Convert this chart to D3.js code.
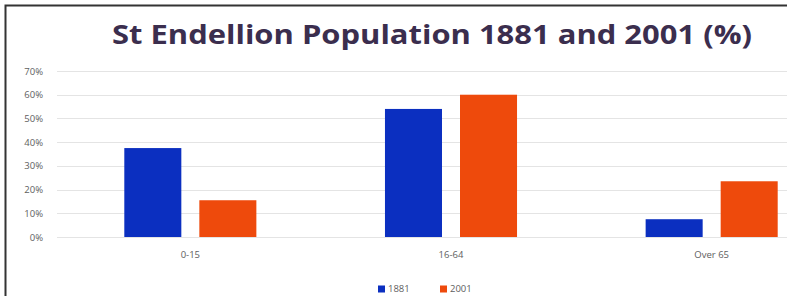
<!DOCTYPE html>
<html>
<head>
<meta charset="utf-8">
<script src="https://cdn.jsdelivr.net/npm/d3@7"></script>
<style>
  body { margin: 0; background: #fff; }
  svg { display: block; }
</style>
</head>
<body>
<svg id="chart" width="787" height="296"></svg>
<script>
// data
const categories = ['0-15', '16-64', 'Over 65'];
const seriesNames = ['1881', '2001'];
const values1881 = [37.5, 54, 7.5];
const values2001 = [15.5, 60, 23.5];
const yTicks = [0, 10, 20, 30, 40, 50, 60, 70];

const colors = { '1881': '#0b2fc0', '2001': '#ee4a0c' };

const svg = d3.select('#chart');
const W = 787, H = 296;

// frame (only top and left edges visible, rest is cut off)
svg.append('path')
  .attr('d', `M5.5,${H} V5.5 H${W}`)
  .attr('fill', 'none')
  .attr('stroke', '#333')
  .attr('stroke-width', 2);

// title
const title = svg.append('text')
  .attr('x', 432)
  .attr('y', 44)
  .attr('text-anchor', 'middle')
  .attr('font-family', 'Open Sans, sans-serif')
  .attr('font-weight', 'bold')
  .attr('font-size', 27)
  .attr('fill', '#3b2e4e')
  .text('St Endellion Population 1881 and 2001 (%)');
// squeeze to the width seen in the picture
title.attr('textLength', 640).attr('lengthAdjust', 'spacingAndGlyphs');

// scales
const plot = { left: 60, right: 842, top: 71, bottom: 237 };
const x = d3.scaleBand().domain(categories).range([plot.left, plot.right]);
const x1 = d3.scaleBand().domain(seriesNames).range([0, x.bandwidth()]).paddingInner(0.24).paddingOuter(0.857);
const y = d3.scaleLinear().domain([0, 70]).range([plot.bottom, plot.top]);

// gridlines
svg.append('g')
  .selectAll('line')
  .data(yTicks)
  .join('line')
  .attr('x1', 57)
  .attr('x2', W)
  .attr('y1', d => Math.round(y(d)) + 0.5)
  .attr('y2', d => Math.round(y(d)) + 0.5)
  .attr('stroke', '#e4e4e4')
  .attr('stroke-width', 1);

// y axis labels
const yAxis = d3.axisLeft(y).tickValues(yTicks).tickFormat(d => d + '%').tickSize(0).tickPadding(0);
const yG = svg.append('g').attr('transform', 'translate(43,0)').call(yAxis);
yG.select('.domain').remove();
yG.selectAll('text')
  .attr('font-family', 'Open Sans, sans-serif')
  .attr('font-size', 9.5)
  .attr('fill', '#5e5e5e');

// bars
const data = categories.map((c, i) => ({ cat: c, vals: [
  { key: '1881', v: values1881[i] },
  { key: '2001', v: values2001[i] }
] }));

svg.append('g')
  .selectAll('g')
  .data(data)
  .join('g')
  .attr('transform', d => `translate(${x(d.cat)},0)`)
  .selectAll('rect')
  .data(d => d.vals)
  .join('rect')
  .attr('x', d => x1(d.key))
  .attr('width', x1.bandwidth())
  .attr('y', d => y(d.v))
  .attr('height', d => y(0) - y(d.v))
  .attr('fill', d => colors[d.key]);

// x axis labels
const xAxis = d3.axisBottom(x).tickSize(0).tickPadding(0);
const xG = svg.append('g').attr('transform', 'translate(0,255)').call(xAxis);
xG.select('.domain').remove();
xG.selectAll('text')
  .attr('font-family', 'Open Sans, sans-serif')
  .attr('font-size', 9.5)
  .attr('fill', '#5e5e5e')
  .attr('dy', '0.35em');

// legend
const legend = svg.append('g').attr('transform', 'translate(378,289)');
const items = [{ k: '1881', dx: 0 }, { k: '2001', dx: 62 }];
const li = legend.selectAll('g').data(items).join('g').attr('transform', d => `translate(${d.dx},0)`);
li.append('rect').attr('x', 0).attr('y', -3.5).attr('width', 7).attr('height', 7).attr('fill', d => colors[d.k]);
li.append('text')
  .attr('x', 10)
  .attr('y', 0)
  .attr('dy', '0.35em')
  .attr('font-family', 'Open Sans, sans-serif')
  .attr('font-size', 9.5)
  .attr('fill', '#5e5e5e')
  .text(d => d.k);
</script>
</body>
</html>
